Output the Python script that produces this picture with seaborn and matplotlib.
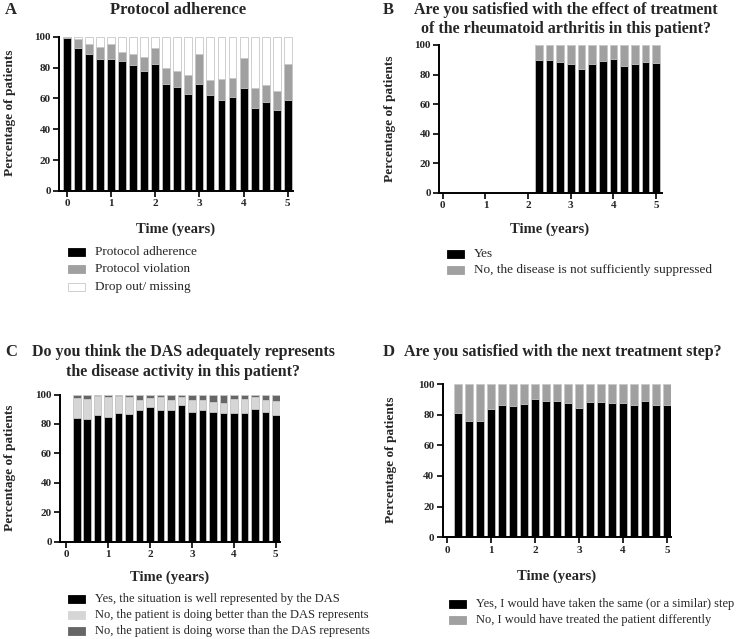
import numpy as np
import pandas as pd
import matplotlib
matplotlib.use("Agg")
import matplotlib.pyplot as plt
import seaborn as sns

sns.set_style("ticks")
plt.rcParams['font.family'] = ['Liberation Serif', 'DejaVu Serif']

# ---------------- data ----------------
time_a = [0, 0.25, 0.5, 0.75, 1, 1.25, 1.5, 1.75, 2, 2.25, 2.5, 2.75, 3,
          3.25, 3.5, 3.75, 4, 4.25, 4.5, 4.75, 5]
adherence = [99, 93, 89, 85.5, 85.5, 84.5, 81.5, 77.5, 82, 69.5, 67.5, 63, 69.5,
             62, 59, 61, 66.5, 54, 58, 52.5, 59]
violation = [1, 5.5, 6.5, 8, 10, 5.5, 7, 9.5, 11, 10.5, 10.5, 12, 19.5,
             10, 13.5, 12, 20, 12.5, 10.5, 12, 23]
dropout = [100 - a - v for a, v in zip(adherence, violation)]

time_b = [2.25, 2.5, 2.75, 3, 3.25, 3.5, 3.75, 4, 4.25, 4.5, 4.75, 5]
b_yes = [89.9, 89.9, 88.8, 87.2, 83.8, 87.0, 89.0, 90.3, 85.8, 87.0, 88.8, 87.6]
b_no = [100 - v for v in b_yes]

time_cd = [0.25, 0.5, 0.75, 1, 1.25, 1.5, 1.75, 2, 2.25, 2.5, 2.75, 3,
           3.25, 3.5, 3.75, 4, 4.25, 4.5, 4.75, 5]
c_yes = [84.0, 83.5, 86.2, 84.6, 87.1, 86.8, 89.6, 91.8, 89.6, 89.3, 92.9, 88.0,
         89.2, 87.8, 87.1, 87.6, 87.6, 89.9, 87.8, 86.2]
c_better = [13.6, 13.6, 12.5, 13.4, 11.9, 11.5, 6.6, 5.5, 8.4, 6.9, 5.4, 8.0,
            7.2, 7.2, 7.2, 9.4, 9.4, 8.2, 8.4, 9.3]
c_worse = [100 - a - b for a, b in zip(c_yes, c_better)]

d_yes = [81.3, 76.1, 75.7, 83.7, 86.3, 85.7, 87.2, 90.0, 88.7, 88.7, 87.4, 84.6,
         88.3, 88.5, 87.8, 87.8, 86.3, 89.1, 86.3, 86.3]
d_no = [100 - v for v in d_yes]

yticks = [0, 20, 40, 60, 80, 100]
xticks = [0, 1, 2, 3, 4, 5]

BLACK = '#000000'
GRAY = '#a0a0a0'
LIGHT = '#d6d6d6'
DARK = '#666666'
EDGE = '#c8c8c8'

W, H = 746, 639
fig = plt.figure(figsize=(W / 100, H / 100), dpi=100)


def ax_at(l, r, t, b):
    return fig.add_axes([l / W, 1 - b / H, (r - l) / W, (b - t) / H])


def fx(px):
    return px / W


def fy(py):
    return 1 - py / H


def stacked(ax, times, layers, colors, edges):
    # layers: list of series bottom->top; draw cumulative from top down
    cum = np.cumsum(np.array(layers), axis=0)
    for i in range(len(layers) - 1, -1, -1):
        df = pd.DataFrame({'t': times, 'v': cum[i]})
        sns.barplot(data=df, x='t', y='v', native_scale=True, color=colors[i],
                    edgecolor=edges[i], linewidth=0.6, width=0.72,
                    errorbar=None, saturation=1, ax=ax)


def style(ax, xlim):
    ax.set_xlim(*xlim)
    ax.set_ylim(0, 100)
    ax.set_xticks(xticks)
    ax.set_yticks(yticks)
    ax.set_xticklabels([str(v) for v in xticks], fontweight='bold', fontsize=8)
    ax.set_yticklabels([str(v) for v in yticks], fontweight='bold', fontsize=8)
    ax.set_xlabel('')
    ax.set_ylabel('')
    for s in ['top', 'right']:
        ax.spines[s].set_visible(False)
    for s in ['left', 'bottom']:
        ax.spines[s].set_linewidth(1.4)
        ax.spines[s].set_color('black')
    ax.tick_params(axis='both', width=1.2, length=4, color='black', pad=2)
    ax.set_facecolor('white')


def legend(x, y_rows, labels, colors, edges, fs=9.5):
    for yy, lab, c, e in zip(y_rows, labels, colors, edges):
        fig.patches.append(matplotlib.patches.Rectangle(
            (fx(x), fy(yy + 4)), 17 / W, 8 / H, transform=fig.transFigure,
            facecolor=c, edgecolor=e, linewidth=0.6))
        fig.text(fx(x + 27), fy(yy), lab, fontsize=fs, va='center', ha='left')


TITLE_FS = 11.5
YLAB_FS = 9.6

# ---------------- Panel A ----------------
axA = ax_at(59, 293, 36.7, 191)
stacked(axA, time_a, [adherence, violation, dropout], [BLACK, GRAY, 'white'],
        [EDGE, EDGE, EDGE])
style(axA, (-0.18, 5.12))
fig.text(fx(5), fy(10), 'A', fontsize=12, fontweight='bold', va='center')
fig.text(fx(178), fy(10), 'Protocol adherence', fontsize=12,
         fontweight='bold', ha='center', va='center')
fig.text(fx(10), fy(113), 'Percentage of patients', fontsize=YLAB_FS,
         fontweight='bold', rotation=90, ha='center', va='center')
fig.text(fx(176), fy(229), 'Time (years)', fontsize=10.5, fontweight='bold',
         ha='center', va='center')
legend(68, [252, 269, 287], ['Protocol adherence', 'Protocol violation',
                             'Drop out/ missing'],
       [BLACK, GRAY, 'white'], [BLACK, GRAY, EDGE])

# ---------------- Panel B ----------------
axB = ax_at(439, 662, 45, 193)
stacked(axB, time_b, [b_yes, b_no], [BLACK, GRAY], [EDGE, EDGE])
style(axB, (-0.09, 5.14))
fig.text(fx(383), fy(10), 'B', fontsize=12, fontweight='bold', va='center')
fig.text(fx(566), fy(10), 'Are you satisfied with the effect of treatment',
         fontsize=TITLE_FS, fontweight='bold', ha='center', va='center')
fig.text(fx(566), fy(29), 'of the rheumatoid arthritis in this patient?',
         fontsize=TITLE_FS, fontweight='bold', ha='center', va='center')
fig.text(fx(390), fy(119), 'Percentage of patients', fontsize=YLAB_FS,
         fontweight='bold', rotation=90, ha='center', va='center')
fig.text(fx(550), fy(229), 'Time (years)', fontsize=10.5, fontweight='bold',
         ha='center', va='center')
legend(447, [254, 270], ['Yes', 'No, the disease is not sufficiently suppressed'],
       [BLACK, GRAY], [BLACK, GRAY])

# ---------------- Panel C ----------------
axC = ax_at(60, 280, 394.5, 541.5)
stacked(axC, time_cd, [c_yes, c_better, c_worse], [BLACK, LIGHT, DARK],
        [EDGE, EDGE, EDGE])
style(axC, (-0.15, 5.1))
fig.text(fx(5), fy(352), 'C', fontsize=12, fontweight='bold', va='center')
fig.text(fx(183), fy(352), 'Do you think the DAS adequately represents',
         fontsize=TITLE_FS, fontweight='bold', ha='center', va='center')
fig.text(fx(183), fy(372), 'the disease activity in this patient?',
         fontsize=TITLE_FS, fontweight='bold', ha='center', va='center')
fig.text(fx(10), fy(468), 'Percentage of patients', fontsize=YLAB_FS,
         fontweight='bold', rotation=90, ha='center', va='center')
fig.text(fx(170), fy(577), 'Time (years)', fontsize=10.5, fontweight='bold',
         ha='center', va='center')
legend(68, [599, 615, 631],
       ['Yes, the situation is well represented by the DAS',
        'No, the patient is doing better than the DAS represents',
        'No, the patient is doing worse than the DAS represents'],
       [BLACK, LIGHT, DARK], [BLACK, LIGHT, DARK], fs=9)

# ---------------- Panel D ----------------
axD = ax_at(442.7, 671.4, 384, 537.3)
stacked(axD, time_cd, [d_yes, d_no], [BLACK, GRAY], [EDGE, EDGE])
style(axD, (-0.1, 5.1))
fig.text(fx(383), fy(352), 'D', fontsize=12, fontweight='bold', va='center')
fig.text(fx(563), fy(352), 'Are you satisfied with the next treatment step?',
         fontsize=TITLE_FS, fontweight='bold', ha='center', va='center')
fig.text(fx(391), fy(460), 'Percentage of patients', fontsize=YLAB_FS,
         fontweight='bold', rotation=90, ha='center', va='center')
fig.text(fx(557), fy(576), 'Time (years)', fontsize=10.5, fontweight='bold',
         ha='center', va='center')
legend(449, [604, 620],
       ['Yes, I would have taken the same (or a similar) step',
        'No, I would have treated the patient differently'],
       [BLACK, GRAY], [BLACK, GRAY], fs=9)

fig.savefig('out.png', dpi=100, facecolor='white')
